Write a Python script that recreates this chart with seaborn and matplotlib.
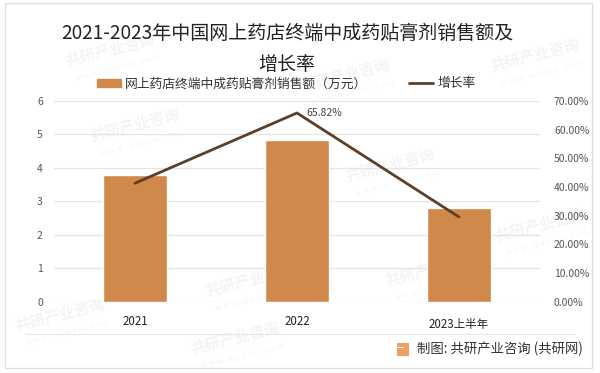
import matplotlib
matplotlib.use('Agg')
import matplotlib.pyplot as plt
import matplotlib.transforms as mtrans
from matplotlib.lines import Line2D
from matplotlib.patches import Patch, Rectangle
import pandas as pd
import seaborn as sns

anos = ['2021', '2022', '2023上半年']
vendas = [3.78, 4.82, 2.8]
crescimento = [41.3, 65.82, 29.5]
ticks_esq = [0, 1, 2, 3, 4, 5, 6]
ticks_dir = [0, 10, 20, 30, 40, 50, 60, 70]

sns.set_theme(style='white')
plt.rcParams['font.family'] = ['Noto Sans CJK SC', 'DejaVu Sans']

df = pd.DataFrame({'ano': anos, 'vendas': vendas, 'crescimento': crescimento})

fig = plt.figure(figsize=(6, 3.73), dpi=100)
W, H = 600, 373
ax = fig.add_axes([54 / W, 1 - 301.5 / H, 486 / W, 200.5 / H])
ax.set_zorder(2)
ax.patch.set_alpha(0)

# marca d'agua
for x, y in [(110, 50), (345, 75), (535, 55), (135, 125), (390, 165),
             (250, 280), (60, 315), (235, 338), (430, 270), (540, 225)]:
    fig.text(x / W, 1 - y / H, '共研产业咨询', fontsize=11, color='#f4f4f4', weight='bold',
             rotation=14, ha='center', va='center', zorder=0)
    fig.text((x + 8) / W, 1 - (y + 18) / H, 'w w w . g o n y n . c o m', fontsize=5, color='#f4f4f4',
             rotation=14, ha='center', va='center', family=['DejaVu Sans'], zorder=0)

sns.barplot(data=df, x='ano', y='vendas', color='#d0894a', saturation=1, width=0.4, ax=ax, zorder=2)
ax.set_ylim(0, 6)
ax.set_xlim(-0.5, 2.5)
ax.set_yticks(ticks_esq)
ax.set_xlabel('')
ax.set_ylabel('')
ax.grid(axis='y', color='#e4e4e4', lw=0.9)
ax.set_axisbelow(True)
sns.despine(ax=ax, left=True, bottom=True)
ax.tick_params(axis='y', length=0, labelsize=7.5, labelcolor='#555555', pad=8)
ax.tick_params(axis='x', length=0, labelsize=8.3, labelcolor='#222222', pad=10)

# o ultimo rotulo fica um pouco mais baixo
rotulos = ax.get_xticklabels()
rotulos[2].set_transform(rotulos[2].get_transform() + mtrans.Affine2D().translate(0, -3))

ax2 = ax.twinx()
ax2.set_zorder(3)
sns.lineplot(data=df, x='ano', y='crescimento', color='#5b3f28', lw=2, ax=ax2, sort=False)
ax2.set_ylim(0, 70)
ax2.set_yticks(ticks_dir)
ax2.set_yticklabels([f'{t:.2f}%' for t in ticks_dir])
ax2.set_xlabel('')
ax2.set_ylabel('')
sns.despine(ax=ax2, left=True, bottom=True, right=True)
ax2.tick_params(axis='y', length=0, labelsize=7.5, labelcolor='#555555', pad=10)
ax2.annotate('65.82%', (1, crescimento[1]), xytext=(7, 0), textcoords='offset points',
             fontsize=7.5, color='#444444', va='center')

fig.text(287 / W, 1 - 33 / H, '2021-2023年中国网上药店终端中成药贴膏剂销售额及', fontsize=13.7,
         color='#222222', ha='center', va='center')
fig.text(287 / W, 1 - 65 / H, '增长率', fontsize=13.7, color='#222222', ha='center', va='center')

alcas = [Patch(color='#d0894a', label='网上药店终端中成药贴膏剂销售额（万元）'),
         Line2D([], [], color='#5b3f28', lw=2, label='增长率')]
fig.legend(handles=alcas, loc='center', bbox_to_anchor=(286 / W, 1 - 84 / H), ncol=2, frameon=False,
           fontsize=9.2, labelcolor='#333333', handlelength=1.9, handleheight=0.5, handletextpad=0.3, columnspacing=3.3)

# moldura, linha do rodape e logo
fig.add_artist(Rectangle((4.5 / W, 1 - 368 / H), 587 / W, 365 / H, transform=fig.transFigure,
                         fill=False, ec='#dddddd', lw=0.9))
fig.add_artist(Line2D([25 / W, 575 / W], [1 - 334 / H] * 2, color='#e6e6e6', lw=0.8))
fig.add_artist(Rectangle((397 / W, 1 - 356 / H), 12 / W, 13 / H, transform=fig.transFigure,
                         color='#f0a060', lw=0))
fig.add_artist(Rectangle((397 / W, 1 - 348 / H), 7 / W, 1.5 / H, transform=fig.transFigure,
                         color='white', lw=0))
fig.text(417 / W, 1 - 349 / H, '制图: 共研产业咨询 (共研网)', fontsize=9.6, color='#333333', va='center',
         weight='medium')

fig.savefig('out.png', dpi=100)
